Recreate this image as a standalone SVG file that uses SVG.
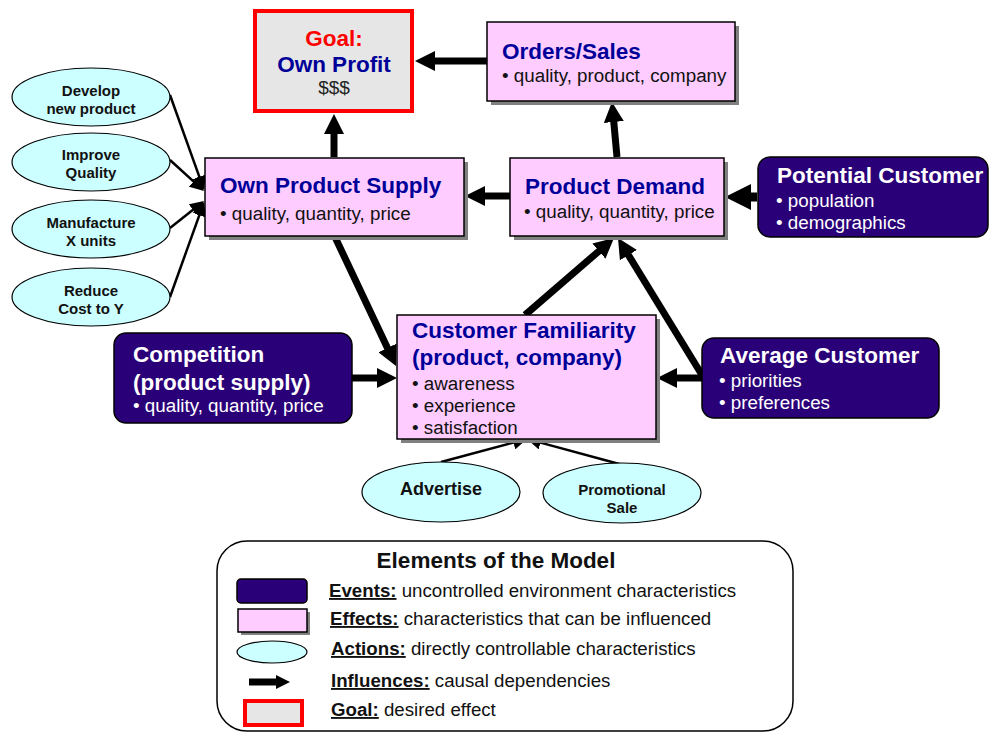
<svg xmlns="http://www.w3.org/2000/svg" width="989" height="732" viewBox="0 0 989 732">
<style>
text{font-family:"Liberation Sans",Arial,sans-serif}
.t{font-weight:bold;font-size:22.5px;fill:#000099}
.tw{font-weight:bold;font-size:22.5px;fill:#ffffff}
.b{font-size:18.8px;fill:#111}
.bw{font-size:18.8px;fill:#ffffff}
.eff{fill:#ffccff;stroke:#000;stroke-width:1.5}
.sh{fill:#808080}
.ev{fill:#2a0078;stroke:#000;stroke-width:1.5}
.act{fill:#ccffff;stroke:#000;stroke-width:1.2}
.at{font-weight:bold;font-size:15px;fill:#111;text-anchor:middle}
.thick{stroke:#000;stroke-width:7;fill:none}
.thin{stroke:#000;stroke-width:2.5;fill:none}
.lg{font-size:18.7px;fill:#111}
.lb{font-weight:bold;text-decoration:underline}
</style>
<defs>
<marker id="ah" markerUnits="userSpaceOnUse" markerWidth="20" markerHeight="20" refX="2" refY="10" orient="auto"><path d="M0,0 L20,10 L0,20 z" fill="#000"/></marker>
<marker id="ahb" markerUnits="userSpaceOnUse" markerWidth="26" markerHeight="26" refX="2" refY="13" orient="auto"><path d="M0,0 L26,13 L0,26 z" fill="#000"/></marker>
<marker id="as" markerUnits="userSpaceOnUse" markerWidth="14" markerHeight="14" refX="2" refY="7" orient="auto"><path d="M0,0 L14,7 L0,14 z" fill="#000"/></marker>
</defs>

<g id="connectors">
<path class="thick" d="M487,61 L433,61" marker-end="url(#ah)"/>
<path class="thick" d="M334,157 L334,132" marker-end="url(#ah)"/>
<path class="thick" d="M617,157 L613.6,120" marker-end="url(#ah)"/>
<path class="thick" d="M510,196 L483,196" marker-end="url(#ah)"/>
<path class="thick" style="stroke-width:9" d="M757,197 L749,197" marker-end="url(#ahb)"/>
<path class="thick" d="M335,237 L388.3,349.7" marker-end="url(#ah)"/>
<path class="thick" d="M352,378 L379,378" marker-end="url(#ah)"/>
<path class="thick" d="M525,315 L600.4,249.8" marker-end="url(#ah)"/>
<path class="thick" d="M702,375 L627.4,253.4" marker-end="url(#ah)"/>
<path class="thick" d="M702,378 L675,378" marker-end="url(#ah)"/>
<path class="thin" d="M170,95 L200,178.7" marker-end="url(#as)"/>
<path class="thin" d="M170,160 L195.1,182.9" marker-end="url(#as)"/>
<path class="thin" d="M170,228 L194.6,208.5" marker-end="url(#as)"/>
<path class="thin" d="M170,297 L200,213.3" marker-end="url(#as)"/>
<path class="thin" d="M441,462 L515.4,442.1" marker-end="url(#as)"/>
<path class="thin" d="M623,465 L538.6,442.1" marker-end="url(#as)"/>
</g>

<g id="goal">
<rect x="255" y="11" width="157" height="100" fill="#e6e6e6" stroke="#ff0000" stroke-width="4"/>
<text x="334" y="46" text-anchor="middle" style="font-weight:bold;font-size:22.5px;fill:#ff0000">Goal:</text>
<text x="334" y="72" text-anchor="middle" class="t">Own Profit</text>
<text x="334" y="94" text-anchor="middle" style="font-size:19px;fill:#222">$$$</text>
</g>

<g id="orders">
<rect class="sh" x="491" y="26" width="248" height="79"/>
<rect class="eff" x="487" y="22" width="248" height="79"/>
<text x="502" y="59" class="t">Orders/Sales</text>
<text x="502" y="82" class="b">• quality, product, company</text>
</g>

<g id="supply">
<rect class="sh" x="209" y="162" width="259" height="78"/>
<rect class="eff" x="205" y="158" width="259" height="78"/>
<text x="220" y="193" class="t">Own Product Supply</text>
<text x="220" y="220" class="b">• quality, quantity, price</text>
</g>

<g id="demand">
<rect class="sh" x="514" y="162" width="214" height="78"/>
<rect class="eff" x="510" y="158" width="214" height="78"/>
<text x="525" y="194" class="t">Product Demand</text>
<text x="524" y="218" class="b">• quality, quantity, price</text>
</g>

<g id="potential">
<rect class="ev" x="758" y="157" width="230" height="80" rx="12"/>
<text x="777" y="183" class="tw">Potential Customer</text>
<text x="776" y="207" class="bw">• population</text>
<text x="776" y="229" class="bw">• demographics</text>
</g>

<g id="familiarity">
<rect class="sh" x="401" y="319" width="259" height="124"/>
<rect class="eff" x="397" y="315" width="259" height="124"/>
<text x="412" y="338" class="t">Customer Familiarity</text>
<text x="412" y="365" class="t">(product, company)</text>
<text x="412" y="390" class="b">• awareness</text>
<text x="412" y="412" class="b">• experience</text>
<text x="412" y="434" class="b">• satisfaction</text>
</g>

<g id="competition">
<rect class="ev" x="114" y="333" width="238" height="90" rx="12"/>
<text x="133" y="362" class="tw">Competition</text>
<text x="133" y="390" class="tw">(product supply)</text>
<text x="133" y="412" class="bw">• quality, quantity, price</text>
</g>

<g id="average">
<rect class="ev" x="702" y="338" width="237" height="80" rx="12"/>
<text x="720" y="363" class="tw">Average Customer</text>
<text x="719" y="387" class="bw">• priorities</text>
<text x="719" y="409" class="bw">• preferences</text>
</g>

<g id="develop">
<ellipse class="act" cx="91" cy="97" rx="79" ry="29"/>
<text x="91" y="96" class="at">Develop</text>
<text x="91" y="114" class="at">new product</text>
</g>
<g id="improve">
<ellipse class="act" cx="91" cy="162" rx="79" ry="29"/>
<text x="91" y="160" class="at">Improve</text>
<text x="91" y="178" class="at">Quality</text>
</g>
<g id="manufacture">
<ellipse class="act" cx="91" cy="229" rx="79" ry="29"/>
<text x="91" y="228" class="at">Manufacture</text>
<text x="91" y="246" class="at">X units</text>
</g>
<g id="reduce">
<ellipse class="act" cx="91" cy="297" rx="79" ry="29"/>
<text x="91" y="296" class="at">Reduce</text>
<text x="91" y="314" class="at">Cost to Y</text>
</g>
<g id="advertise">
<ellipse class="act" cx="441" cy="492" rx="79" ry="30"/>
<text x="441" y="495" class="at" style="font-size:18px">Advertise</text>
</g>
<g id="promotional">
<ellipse class="act" cx="622" cy="493" rx="79" ry="30"/>
<text x="622" y="495" class="at">Promotional</text>
<text x="622" y="513" class="at">Sale</text>
</g>

<g id="legend">
<rect x="217" y="541" width="576" height="190" rx="30" fill="#fff" stroke="#000" stroke-width="1.5"/>
<text x="496" y="568" text-anchor="middle" style="font-weight:bold;font-size:22.5px;fill:#111">Elements of the Model</text>
<rect class="ev" x="237" y="579" width="70" height="24" rx="4"/>
<rect class="sh" x="241" y="612" width="69" height="23"/>
<rect class="eff" x="238" y="609" width="69" height="23"/>
<ellipse class="act" cx="272" cy="652" rx="35" ry="11"/>
<path class="thick" d="M249,682 L278,682" marker-end="url(#as)" style="stroke-width:7"/>
<rect x="245" y="701" width="57" height="24" fill="#e6e6e6" stroke="#ff0000" stroke-width="4"/>
<text x="329" y="597" class="lg"><tspan class="lb">Events:</tspan> uncontrolled environment characteristics</text>
<text x="330" y="625" class="lg"><tspan class="lb">Effects:</tspan> characteristics that can be influenced</text>
<text x="331" y="655" class="lg"><tspan class="lb">Actions:</tspan> directly controllable characteristics</text>
<text x="331" y="687" class="lg"><tspan class="lb">Influences:</tspan> causal dependencies</text>
<text x="331" y="716" class="lg"><tspan class="lb">Goal:</tspan> desired effect</text>
</g>
</svg>
